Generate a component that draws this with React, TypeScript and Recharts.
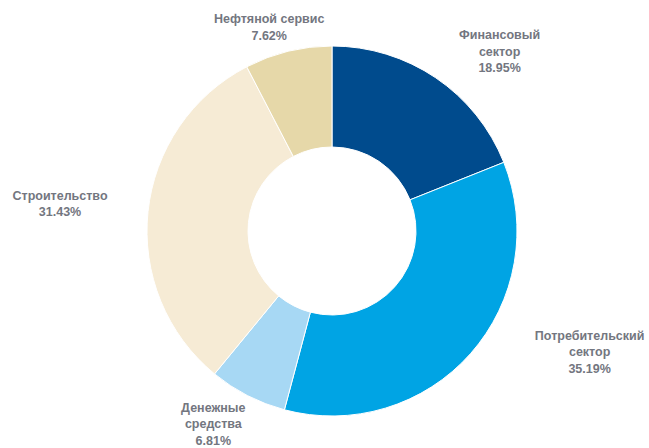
import { PieChart, Pie, Cell } from 'recharts';

// Структура портфеля по секторам, %
const sectors = ['Финансовый\nсектор', 'Потребительский\nсектор', 'Денежные\nсредства', 'Строительство', 'Нефтяной сервис'];
const shares = [18.95, 35.19, 6.81, 31.43, 7.62];
const colors = ['#004b8d', '#00a4e4', '#a7d8f4', '#f6ebd5', '#e6d8a9'];

const data = sectors.map((name, i) => ({ name, value: shares[i] }));

// подписи в исходнике подвинуты вручную - небольшие сдвиги от эллипса
const labelNudge: [number, number][] = [
  [12, -3],
  [50, -20],
  [8, 4],
  [4, -5],
  [3, 3],
];

const RAD = Math.PI / 180;

function renderLabel(props: any) {
  const { cx, cy, midAngle, outerRadius, index, name, value } = props;
  const rx = outerRadius * 1.5;
  const ry = outerRadius * 1.15;
  const [nx, ny] = labelNudge[index] || [0, 0];
  const x = cx + rx * Math.cos(-midAngle * RAD) + nx;
  const y = cy + ry * Math.sin(-midAngle * RAD) + ny;
  const lines = [...String(name).split('\n'), `${Number(value).toFixed(2)}%`];
  const lh = 16.5;
  const top = y - ((lines.length - 1) * lh) / 2;
  return (
    <text
      x={x}
      y={top}
      textAnchor="middle"
      dominantBaseline="central"
      fill="#737680"
      fontSize={12.5}
      fontWeight="bold"
      fontFamily="'Liberation Sans', Arial, sans-serif"
    >
      {lines.map((l, i) => (
        <tspan key={i} x={x} y={top + i * lh}>
          {l}
        </tspan>
      ))}
    </text>
  );
}

export default function App() {
  return (
    <div style={{ position: 'absolute', left: 0, top: 0, background: '#fff' }}>
      <PieChart width={649} height={448} margin={{ top: 0, right: 0, bottom: 0, left: 0 }}>
        <Pie
          data={data}
          dataKey="value"
          nameKey="name"
          cx={332}
          cy={231}
          innerRadius={84}
          outerRadius={185}
          startAngle={90}
          endAngle={-270}
          stroke="#ffffff"
          strokeWidth={1}
          label={renderLabel}
          labelLine={false}
          isAnimationActive={false}
        >
          {data.map((entry, idx) => (
            <Cell key={`cell-${idx}`} fill={colors[idx]} />
          ))}
        </Pie>
      </PieChart>
    </div>
  );
}
